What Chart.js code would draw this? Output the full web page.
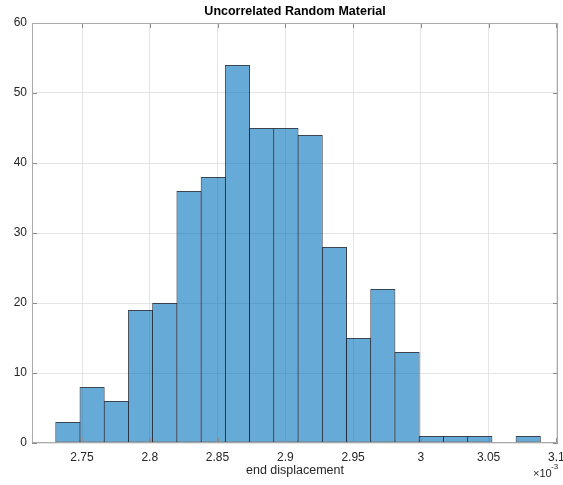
<!DOCTYPE html>
<html>
<head>
<meta charset="utf-8">
<script src="https://cdn.jsdelivr.net/npm/chart.js@4/dist/chart.umd.min.js"></script>
<style>
  html, body { margin: 0; padding: 0; background: #ffffff; }
  #wrap { width: 563px; height: 485px; }
</style>
</head>
<body>
<div id="wrap"><canvas id="c" width="563" height="485"></canvas></div>
<script>
// ---- Data (x values in units of 10^-3) ----
const chartTitle = 'Uncorrelated Random Material';
const xAxisLabel = 'end displacement';
const xExponentLabel = '\u00d710';
const xExponentPower = '-3';
const binEdges = [2.7306, 2.7485, 2.7664, 2.7842, 2.8021, 2.8200, 2.8379, 2.8558, 2.8736, 2.8915,
                  2.9094, 2.9273, 2.9452, 2.9630, 2.9809, 2.9988, 3.0167, 3.0346, 3.0524, 3.0703, 3.0882];
const binCounts = [3, 8, 6, 19, 20, 36, 38, 54, 45, 45, 44, 28, 15, 22, 13, 1, 1, 1, 0, 1];
const xTickValues = [2.75, 2.8, 2.85, 2.9, 2.95, 3.0, 3.05, 3.1];
const xTickLabels = ['2.75', '2.8', '2.85', '2.9', '2.95', '3', '3.05', '3.1'];
const yTickValues = [0, 10, 20, 30, 40, 50, 60];
const yTickLabels = ['0', '10', '20', '30', '40', '50', '60'];
const xLimits = [2.7131, 3.1012];
const yLimits = [0, 60];

const FONT = '"Liberation Sans", Arial, Helvetica, sans-serif';
const barPoints = binCounts.map((c, i) => ({ x: (binEdges[i] + binEdges[i + 1]) / 2, y: c }));

const framePlugin = {
  id: 'matlabFrame',
  afterDatasetsDraw(chart) {
    const { ctx, chartArea: a, scales } = chart;
    ctx.save();
    ctx.lineWidth = 1;
    ctx.strokeStyle = '#8c8c8c';
    ctx.beginPath();
    xTickValues.forEach(v => {
      const px = Math.round(scales.x.getPixelForValue(v)) + 0.5;
      ctx.moveTo(px, a.bottom); ctx.lineTo(px, a.bottom - 5);
      ctx.moveTo(px, a.top); ctx.lineTo(px, a.top + 5);
    });
    yTickValues.forEach(v => {
      const py = Math.round(scales.y.getPixelForValue(v)) + 0.5;
      ctx.moveTo(a.left, py); ctx.lineTo(a.left + 5, py);
      ctx.moveTo(a.right, py); ctx.lineTo(a.right - 5, py);
    });
    ctx.stroke();
    ctx.strokeStyle = '#a9a9a9';
    ctx.strokeRect(Math.round(a.left) + 0.5, Math.round(a.top) + 0.5,
                   Math.round(a.right - a.left) - 1, Math.round(a.bottom - a.top) - 1);
    ctx.restore();
  },
  afterDraw(chart) {
    const { ctx, chartArea: a } = chart;
    const cx = (a.left + a.right) / 2;
    ctx.save();
    ctx.fillStyle = '#000000';
    ctx.textAlign = 'center';
    ctx.textBaseline = 'middle';
    ctx.font = 'bold 12.5px ' + FONT;
    ctx.fillText(chartTitle, cx, 12);
    ctx.fillStyle = '#262626';
    ctx.font = '12.5px ' + FONT;
    ctx.fillText(xAxisLabel, cx, 471);
    ctx.textAlign = 'left';
    ctx.font = '11px ' + FONT;
    ctx.fillText(xExponentLabel, 533, 474);
    ctx.font = '8px ' + FONT;
    ctx.fillText(xExponentPower, 551, 467);
    ctx.restore();
  }
};

new Chart(document.getElementById('c'), {
  type: 'bar',
  data: {
    datasets: [{
      data: barPoints,
      backgroundColor: 'rgba(0,114,189,0.6)',
      borderColor: 'rgba(25,35,50,0.85)',
      borderWidth: 1,
      borderSkipped: false,
      barPercentage: 1.04,
      categoryPercentage: 1
    }]
  },
  options: {
    responsive: false,
    animation: false,
    layout: { padding: { left: 0, right: 5, top: 23, bottom: 0 } },
    plugins: { legend: { display: false }, tooltip: { enabled: false }, title: { display: false } },
    scales: {
      x: {
        type: 'linear',
        offset: false,
        min: xLimits[0],
        max: xLimits[1],
        afterFit(scale) { scale.height = 42; scale.paddingLeft = 0; scale.paddingRight = 0; },
        afterBuildTicks(scale) { scale.ticks = xTickValues.map(v => ({ value: v })); },
        ticks: {
          callback: (v) => { const i = xTickValues.findIndex(t => Math.abs(t - v) < 1e-9); return i >= 0 ? xTickLabels[i] : ''; },
          color: '#262626',
          font: { family: FONT, size: 12 },
          padding: 7,
          maxRotation: 0,
          autoSkip: false
        },
        grid: { color: '#e4e4e4', drawTicks: false, lineWidth: 1, offset: false },
        border: { display: false }
      },
      y: {
        type: 'linear',
        min: yLimits[0],
        max: yLimits[1],
        afterFit(scale) { scale.width = 32; scale.paddingTop = 0; scale.paddingBottom = 0; },
        afterBuildTicks(scale) { scale.ticks = yTickValues.map(v => ({ value: v })); },
        ticks: {
          callback: (v) => { const i = yTickValues.indexOf(v); return i >= 0 ? yTickLabels[i] : ''; },
          color: '#262626',
          font: { family: FONT, size: 12 },
          padding: 5
        },
        grid: { color: '#e4e4e4', drawTicks: false, lineWidth: 1 },
        border: { display: false }
      }
    }
  },
  plugins: [framePlugin]
});
</script>
</body>
</html>
